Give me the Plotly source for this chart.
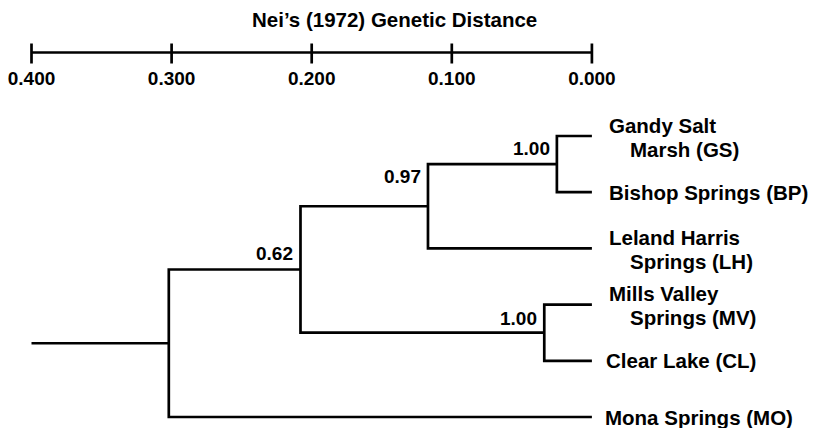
import plotly.graph_objects as go

# ---------------- data ----------------
leaves = ["GS", "BP", "LH", "MV", "CL", "MO"]
leaf_label_lines = [
    ["Gandy Salt", "Marsh (GS)"],
    ["Bishop Springs (BP)"],
    ["Leland Harris", "Springs (LH)"],
    ["Mills Valley", "Springs (MV)"],
    ["Clear Lake (CL)"],
    ["Mona Springs (MO)"],
]
merge_left = ["GS", "GS+BP", "MV", "GS+BP+LH", "GS+BP+LH+MV+CL"]
merge_right = ["BP", "LH", "CL", "MV+CL", "MO"]
merge_height = [0.025, 0.117, 0.034, 0.208, 0.302]
merge_support = ["1.00", "0.97", "1.00", "0.62", ""]
root_stem_end = 0.400
scale_ticks = [0.400, 0.300, 0.200, 0.100, 0.000]
scale_tick_labels = ["0.400", "0.300", "0.200", "0.100", "0.000"]
axis_title = "Nei\u2019s (1972) Genetic Distance"

# ---------------- layout helpers ----------------
W, H = 814, 428
X0_PX, PX_PER_UNIT = 31.5, 1401.0      # pixel of distance 0.4, pixels per unit distance
Y0_PX, ROW_PX = 136.0, 56.2            # pixel of first leaf row, pixels per row


def row_from_px(px):
    return (px - Y0_PX) / ROW_PX


FONT = "Liberation Sans, Arial, Helvetica, sans-serif"
LW = 2.7

# ---------------- tree geometry from data ----------------
pos = {name: (0.0, float(i)) for i, name in enumerate(leaves)}
tx, ty = [], []
for l, r, h in zip(merge_left, merge_right, merge_height):
    hl, yl = pos[l]
    hr, yr = pos[r]
    tx += [hl, h, h, hr, None]
    ty += [yl, yl, yr, yr, None]
    pos[l + "+" + r] = (h, (yl + yr) / 2)
root_name = merge_left[-1] + "+" + merge_right[-1]
rh, ry = pos[root_name]
tx += [rh, root_stem_end, None]
ty += [ry, ry, None]

fig = go.Figure()
fig.add_trace(go.Scatter(x=tx, y=ty, mode="lines",
                         line=dict(color="black", width=LW),
                         hoverinfo="skip", showlegend=False))

# ---------------- scale bar ----------------
bar_y = row_from_px(52.5)
tick_top, tick_bot = row_from_px(43.5), row_from_px(63.5)
sx = [scale_ticks[0], scale_ticks[-1], None]
sy = [bar_y, bar_y, None]
for t in scale_ticks:
    sx += [t, t, None]
    sy += [tick_top, tick_bot, None]
fig.add_trace(go.Scatter(x=sx, y=sy, mode="lines",
                         line=dict(color="black", width=LW),
                         hoverinfo="skip", showlegend=False))
fig.add_trace(go.Scatter(x=scale_ticks, y=[row_from_px(80)] * len(scale_ticks),
                         mode="text", text=["<b>" + t + "</b>" for t in scale_tick_labels],
                         textfont=dict(family=FONT, size=19, color="black"),
                         textposition="middle center",
                         hoverinfo="skip", showlegend=False))

annotations = []
# title
annotations.append(dict(text="<b>" + axis_title + "</b>", xref="paper", yref="y",
                        x=394 / W, y=row_from_px(19.5), xanchor="center", yanchor="middle",
                        showarrow=False, font=dict(family=FONT, size=20.5, color="black")))

# support values
support_yshift = {"1.00a": 3, "0.97": 17, "1.00b": 2, "0.62": 3}
keys = ["1.00a", "0.97", "1.00b", "0.62", ""]
for l, r, h, s, k in zip(merge_left, merge_right, merge_height, merge_support, keys):
    if not s:
        continue
    y = pos[l + "+" + r][1]
    annotations.append(dict(text="<b>" + s + "</b>", x=h, y=y, xref="x", yref="y",
                            xanchor="right", yanchor="bottom", xshift=-5,
                            yshift=support_yshift[k], showarrow=False,
                            font=dict(family=FONT, size=19, color="black")))

# leaf labels
line_offsets = {1: [(0, 0)], 2: [(0, -11), (21, 13)]}
leaf_xshift = {"CL": 12, "MO": 11}
for i, (name, lines) in enumerate(zip(leaves, leaf_label_lines)):
    for (dx, dy), txt in zip(line_offsets[len(lines)], lines):
        annotations.append(dict(text="<b>" + txt + "</b>", x=0.0, y=float(i),
                                xref="x", yref="y", xanchor="left", yanchor="middle",
                                xshift=leaf_xshift.get(name, 15) + dx, yshift=-dy,
                                showarrow=False,
                                font=dict(family=FONT, size=20.5, color="black")))

x_left = 0.4 + X0_PX / PX_PER_UNIT
x_right = 0.4 - (W - X0_PX) / PX_PER_UNIT
fig.update_layout(
    width=W, height=H,
    margin=dict(l=0, r=0, t=0, b=0),
    paper_bgcolor="white", plot_bgcolor="white",
    xaxis=dict(range=[x_left, x_right], visible=False, fixedrange=True),
    yaxis=dict(range=[row_from_px(H), row_from_px(0)], visible=False, fixedrange=True),
    annotations=annotations,
    showlegend=False,
)
fig.write_html("out.html", config={"displayModeBar": False},
               post_script="document.body.style.margin='0';document.body.style.overflow='hidden';")
